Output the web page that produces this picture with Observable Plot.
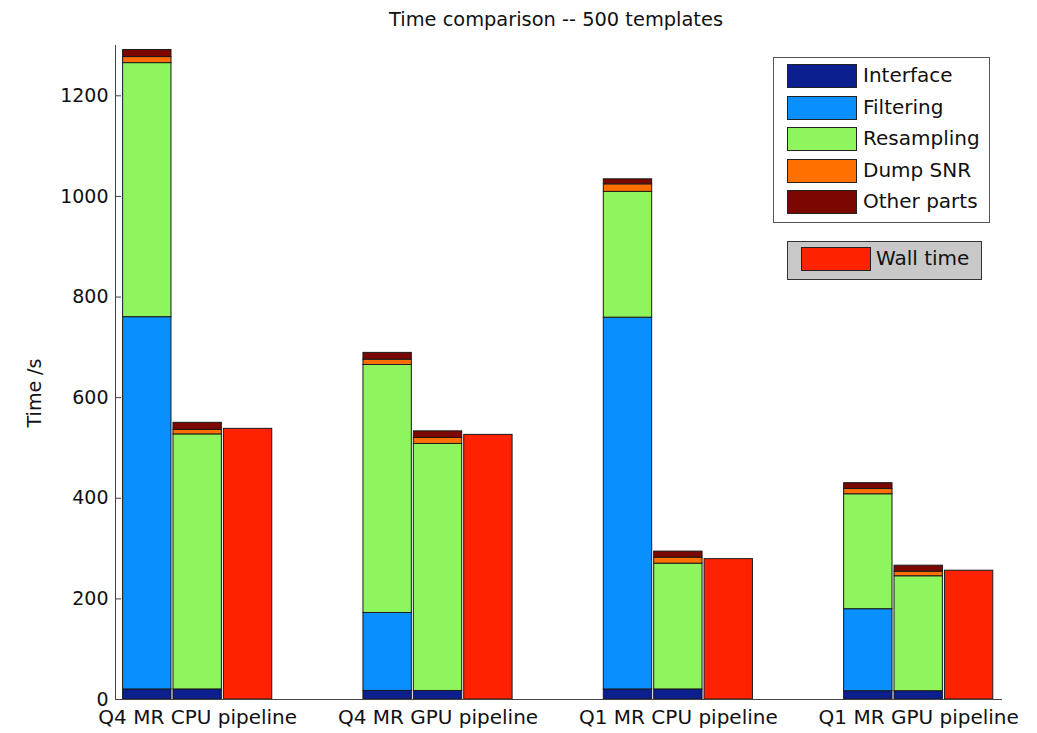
<!DOCTYPE html>
<html>
<head>
<meta charset="utf-8">
<script src="https://cdn.jsdelivr.net/npm/d3@7"></script>
<script src="https://cdn.jsdelivr.net/npm/@observablehq/plot@0.6"></script>
<style>
  body { margin: 0; background: #fff; font-family: "DejaVu Sans", sans-serif; }
  #wrap { position: relative; width: 1037px; height: 733px; overflow: hidden; }
  #chart { position: absolute; left: 0; top: 0; }
  #title { position: absolute; top: 9px; left: 556px; transform: translateX(-50%); font-size: 19.4px; line-height: 22px; white-space: nowrap; color: #111; }
  #ylabel { position: absolute; left: 34px; top: 393px; transform: translate(-50%, -50%) rotate(-90deg); font-size: 19px; line-height: 20px; white-space: nowrap; color: #111; }
  .lbox { position: absolute; box-sizing: border-box; border: 1px solid #555; }
  .sw { position: absolute; box-sizing: border-box; border: 1px solid #222; width: 70px; height: 24px; }
  .lt { position: absolute; font-size: 20px; line-height: 24px; height: 24px; white-space: nowrap; color: #111; }
</style>
</head>
<body>
<div id="wrap">
  <div id="chart"></div>
  <div id="title">Time comparison -- 500 templates</div>
  <div id="ylabel">Time /s</div>
</div>
<script>
// ---- data ----
const groups = ["Q4 MR CPU pipeline", "Q4 MR GPU pipeline", "Q1 MR CPU pipeline", "Q1 MR GPU pipeline"];
const components = ["Interface", "Filtering", "Resampling", "Dump SNR", "Other parts"];
const componentColors = ["#0b1f8f", "#0a8fff", "#8ff55e", "#ff7000", "#7a0800"];
const wallLabel = "Wall time";
const wallColor = "#ff2200";

// first stacked bar of each group
const interfaceA  = [20, 17, 20, 16.5];
const filteringA  = [740, 155, 739, 163];
const resamplingA = [505, 493, 250, 228.5];
const dumpA       = [12, 10.5, 15, 10.5];
const otherA      = [14, 13.5, 10, 11.5];
// second stacked bar of each group
const interfaceB  = [20, 17, 20, 16.5];
const filteringB  = [0, 0, 0, 0];
const resamplingB = [507, 491, 250, 228.5];
const dumpB       = [9, 12, 12, 9];
const otherB      = [14, 13, 12, 12];
// wall time
const wallTime    = [538, 526, 279, 256];

const yTicks = [0, 200, 400, 600, 800, 1000, 1200];

// ---- layout helpers (in bar units) ----
const W = 1037, H = 733, mL = 115, mR = 35, mT = 45, mB = 34;
const groupStep = 4.77;
const barWidth = 0.96;
const xMin = -1.631, xMax = 3 * groupStep + 1.663;
const pxPerUnit = (W - mL - mR) / (xMax - xMin);
const tickLen = 6 / pxPerUnit;

const stackA = [interfaceA, filteringA, resamplingA, dumpA, otherA];
const stackB = [interfaceB, filteringB, resamplingB, dumpB, otherB];

const rows = [];
groups.forEach((g, gi) => {
  [stackA, stackB].forEach((stack, bi) => {
    let base = 0;
    components.forEach((c, ci) => {
      const v = stack[ci][gi];
      if (v > 0) rows.push({group: g, center: gi * groupStep + (bi - 1), component: c, y1: base, y2: base + v});
      base += v;
    });
  });
});
const wallRows = groups.map((g, gi) => ({group: g, center: gi * groupStep + 1, value: wallTime[gi]}));
const centers = groups.map((g, gi) => gi * groupStep);

const plot = Plot.plot({
  width: W,
  height: H,
  marginLeft: mL,
  marginRight: mR,
  marginTop: mT,
  marginBottom: mB,
  style: {fontFamily: "DejaVu Sans", fontSize: "19px", color: "#111", background: "transparent"},
  x: {domain: [xMin, xMax], axis: null},
  y: {domain: [0, 1300], axis: null},
  color: {domain: components, range: componentColors},
  marks: [
    Plot.rect(rows, {x1: d => d.center - barWidth / 2, x2: d => d.center + barWidth / 2, y1: "y1", y2: "y2", fill: "component", stroke: "#1a1a1a", strokeWidth: 1}),
    Plot.rect(wallRows, {x1: d => d.center - barWidth / 2, x2: d => d.center + barWidth / 2, y1: 0, y2: "value", fill: wallColor, stroke: "#1a1a1a", strokeWidth: 1}),
    Plot.ruleY(yTicks, {x1: xMin, x2: xMin + tickLen, stroke: "#444"}),
    Plot.ruleY([0], {stroke: "#444"}),
    Plot.ruleX([xMin], {stroke: "#444"}),
    Plot.axisY({ticks: yTicks, tickSize: 0, tickPadding: 7, tickFormat: d => String(d), label: null, fontSize: 19}),
    Plot.axisX({ticks: centers, tickFormat: d => groups[Math.round(d / groupStep)], tickSize: 0, tickPadding: 10, label: null, fontSize: 20})
  ]
});
document.getElementById("chart").appendChild(plot);

// ---- legend (HTML) ----
const wrap = document.getElementById("wrap");
function el(cls, style, text) {
  const d = document.createElement("div");
  d.className = cls;
  Object.assign(d.style, style);
  if (text) d.textContent = text;
  wrap.appendChild(d);
  return d;
}
el("lbox", {left: "773px", top: "57px", width: "217px", height: "166px", background: "#fff"});
components.forEach((c, i) => {
  const top = 64 + i * 31.6;
  el("sw", {left: "787px", top: top + "px", background: componentColors[i]});
  el("lt", {left: "863px", top: (top - 1) + "px"}, c);
});
el("lbox", {left: "787px", top: "241px", width: "195px", height: "39px", background: "#c8c8c8", borderColor: "#333"});
el("sw", {left: "801px", top: "247px", background: wallColor});
el("lt", {left: "876px", top: "246px"}, wallLabel);
</script>
</body>
</html>
